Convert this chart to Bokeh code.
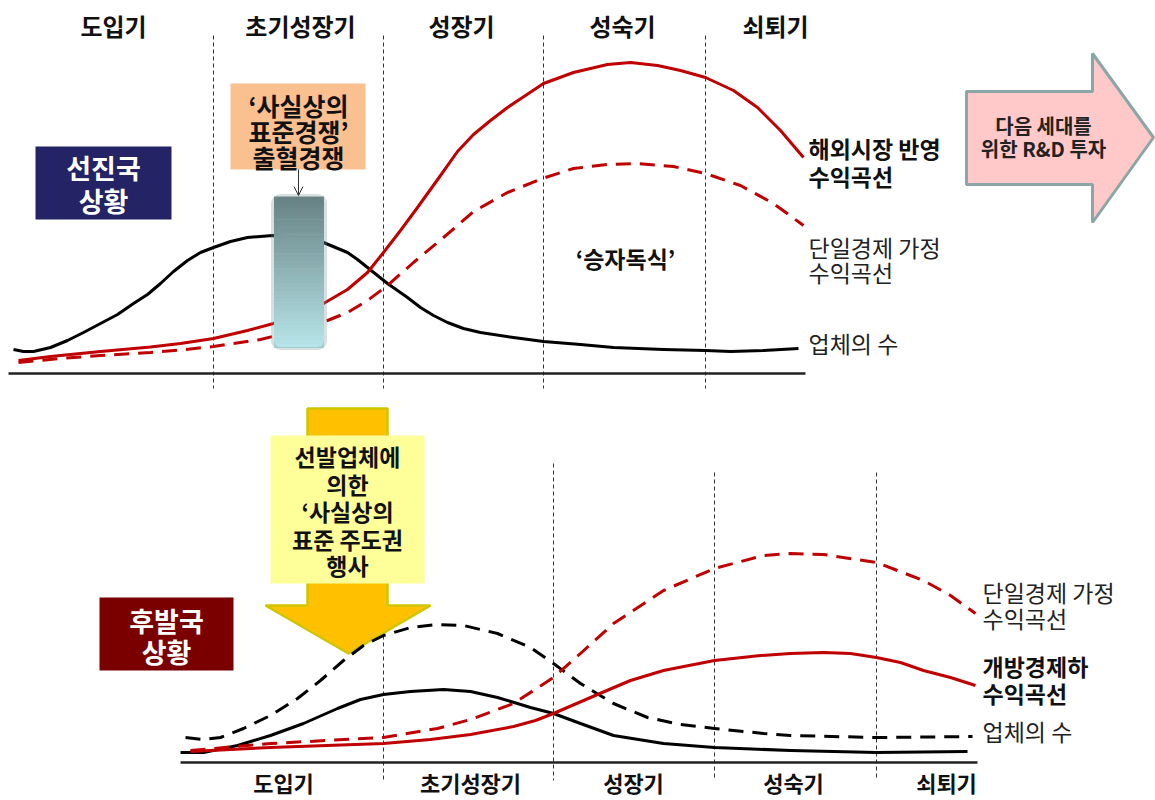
from bokeh.plotting import figure
from bokeh.models import Range1d, Arrow, OpenHead, BoxAnnotation
from bokeh.core.properties import value
from bokeh.embed import file_html
from bokeh.resources import INLINE

# ---------------- data ----------------
stages = ["도입기", "초기성장기", "성장기", "성숙기", "쇠퇴기"]
top_stage_x = [113, 300, 461, 622, 775]
top_bounds = [213, 383, 543, 705]
bot_stage_x = [283, 470, 633, 793, 946]
bot_bounds = [383, 553, 714, 876]
bot_bound_tops = [635, 463, 472, 472]

# advanced-country panel (선진국)
top_firms_x = [13, 23, 33, 50, 67, 83, 100, 117, 133, 147, 160, 173, 187, 200, 213, 230, 247, 260, 272, 290, 310, 323, 335, 347, 357, 367, 377, 387, 397, 407, 420, 433, 447, 463, 480, 513, 543, 580, 613, 663, 705, 730, 763, 798]
top_firms_y = [349, 351, 351, 347, 340, 332, 323, 314, 303, 294, 283, 271, 260, 252, 247, 241, 237, 236, 235, 236, 238, 242, 247, 252, 259, 267, 275, 283, 290, 297, 307, 315, 322, 328, 332, 337, 341, 344, 347, 349, 350, 351, 350, 348]

top_open_x = [18, 50, 100, 150, 180, 213, 247, 273, 297, 323, 347, 367, 383, 400, 417, 440, 457, 473, 490, 507, 525, 543, 573, 607, 630, 657, 680, 705, 733, 757, 780, 803]
top_open_y = [360, 356, 351, 346.5, 343, 338, 330, 323, 315, 303, 289, 272, 252, 230, 207, 175, 151, 134, 120, 107, 95, 83, 72, 64, 62, 65, 70, 77, 90, 107, 130, 157]

top_single_x = [18, 60, 100, 150, 180, 213, 260, 300, 327, 347, 367, 387, 413, 443, 473, 507, 542, 573, 607, 637, 673, 705, 740, 773, 803]
top_single_y = [362, 358, 355, 352, 349.5, 346, 339, 329, 320, 312, 300, 285, 262, 237, 211, 192, 178, 168, 164, 163, 166, 173, 185, 203, 225]

# late-comer panel (후발국)
bot_single_firms_x = [185, 203, 220, 243, 270, 297, 320, 343, 363, 383, 410, 437, 463, 497, 530, 553, 580, 613, 647, 680, 714, 763, 790, 876, 972]
bot_single_firms_y = [737, 739, 737, 728, 715, 698, 680, 660, 645, 635, 627, 624, 625, 633, 647, 663, 683, 703, 717, 724, 728, 733, 735, 737, 736]

bot_open_firms_x = [180, 203, 237, 270, 303, 337, 360, 383, 410, 443, 470, 497, 530, 553, 580, 613, 663, 714, 790, 876, 967]
bot_open_firms_y = [752, 752, 745, 735, 723, 708, 699, 694, 691, 689, 691, 697, 707, 713, 723, 735, 743, 747, 750, 752, 751]

bot_open_x = [190, 270, 383, 430, 470, 513, 535, 553, 597, 630, 663, 714, 760, 790, 823, 850, 876, 900, 923, 950, 975]
bot_open_y = [751, 747, 743, 739, 734, 726, 720, 713, 694, 680, 670, 660, 655, 653, 652, 653, 657, 662, 670, 677, 685]

bot_single_x = [190, 270, 383, 437, 470, 513, 553, 580, 613, 663, 714, 763, 790, 823, 876, 923, 950, 975]
bot_single_y = [750, 743, 737, 728, 719, 703, 677, 653, 623, 590, 568, 555, 553, 554, 562, 580, 595, 613]

top_right_bold = ["해외시장 반영", "수익곡선"]
top_right_reg1 = ["단일경제 가정", "수익곡선"]
firms_label = "업체의 수"
bot_right_bold = ["개방경제하", "수익곡선"]
orange_lines = ["‘사실상의", "표준경쟁’", "출혈경쟁"]
yellow_lines = ["선발업체에", "의한", "‘사실상의", "표준 주도권", "행사"]
pink_lines = ["다음 세대를", "위한 R&D 투자"]
adv_lines = ["선진국", "상황"]
late_lines = ["후발국", "상황"]
winner_text = "‘승자독식’"

# ---------------- figure ----------------
FONT = value("Noto Sans CJK KR")
RED = "#c00000"

p = figure(width=1155, height=800, x_range=Range1d(0, 1155), y_range=Range1d(800, 0),
           output_backend="svg", toolbar_location=None,
           x_axis_location=None, y_axis_location=None,
           min_border=0, min_border_left=0, min_border_right=0,
           min_border_top=0, min_border_bottom=0)
p.grid.visible = False
p.outline_line_color = None
p.background_fill_color = "white"
p.border_fill_color = "white"


def txt(xs, ys, texts, size, bold=True, color="#111111", align="center"):
    p.text(x=xs, y=ys, text=texts, text_font=FONT, text_font_size=value(size),
           text_font_style="bold" if bold else "normal", text_color=color,
           text_align=align, text_baseline="middle")


# stage divider lines
p.segment(x0=top_bounds, x1=top_bounds, y0=[35] * 4, y1=[388] * 4,
          line_color="#333333", line_width=1, line_dash="4 3")
p.segment(x0=bot_bounds, x1=bot_bounds, y0=bot_bound_tops, y1=[780] * 4,
          line_color="#333333", line_width=1, line_dash="4 3")

# baselines
p.line(x=[8, 805], y=[373, 373], line_color="#222222", line_width=2.5)
p.line(x=[180, 977], y=[762, 762], line_color="#222222", line_width=2.5)

# yellow down arrow (under curves)
p.patch(x=[307, 387, 387, 430, 348, 265, 307], y=[408, 408, 605, 605, 653, 605, 605],
        fill_color="#ffc000", line_color="#cfc500", line_width=2.5)
p.quad(left=[270], right=[424], top=[435], bottom=[583], fill_color="#ffff99", line_color=None)

# pink right arrow
p.patch(x=[966, 1092, 1092, 1153, 1092, 1092, 966], y=[91, 91, 53, 137, 222, 184, 184],
        fill_color="#ffc9c9", line_color="#8aa6a6", line_width=3)

# curves top
p.line(top_firms_x, top_firms_y, line_color="black", line_width=3, line_join="round")
p.line(top_single_x, top_single_y, line_color=RED, line_width=3, line_dash="15 9", line_join="round")
p.line(top_open_x, top_open_y, line_color=RED, line_width=3, line_join="round")

# curves bottom
p.line(bot_single_firms_x, bot_single_firms_y, line_color="black", line_width=3, line_dash="15 9", line_join="round")
p.line(bot_open_firms_x, bot_open_firms_y, line_color="black", line_width=3, line_join="round")
p.line(bot_single_x, bot_single_y, line_color=RED, line_width=3, line_dash="15 9", line_join="round")
p.line(bot_open_x, bot_open_y, line_color=RED, line_width=3, line_join="round")

# gradient bar (competition zone)
nb = 40
y0, y1 = 196.0, 347.0
c0, c1 = (104, 130, 132), (182, 228, 232)
bl, br, bt, bb, bc = [], [], [], [], []
for i in range(nb):
    t = i / (nb - 1)
    bt.append(y0 + (y1 - y0) * i / nb)
    bb.append(y0 + (y1 - y0) * (i + 1) / nb + 0.6)
    bl.append(273.5)
    br.append(323.5)
    r, g, b = (int(round(c0[k] + (c1[k] - c0[k]) * t)) for k in range(3))
    bc.append("#%02x%02x%02x" % (r, g, b))
p.quad(left=bl, right=br, top=bt, bottom=bb, fill_color=bc, line_color=None)
p.add_layout(BoxAnnotation(left=272, right=325, top=195, bottom=348, fill_color=None,
                           line_color="#7a9799", line_width=3, border_radius=8))

# orange note box + arrow
p.quad(left=[230], right=[365], top=[83], bottom=[169], fill_color="#fac090", line_color=None)
p.add_layout(Arrow(end=OpenHead(size=9, line_width=1, line_color="#333333"),
                   x_start=298, y_start=169, x_end=298, y_end=195,
                   line_color="#333333", line_width=1))

# situation boxes
p.quad(left=[35], right=[171], top=[146], bottom=[219], fill_color="#232366", line_color=None)
p.quad(left=[99], right=[233], top=[597], bottom=[670], fill_color="#7a0000", line_color=None)

# ---------------- texts ----------------
txt(top_stage_x, [25] * 5, stages, "24px")
txt(bot_stage_x, [781] * 5, stages, "22px")

txt([103, 103], [167, 200], adv_lines, "27px", color="white")
txt([166, 166], [620, 651], late_lines, "27px", color="white")

txt([298, 298, 298], [104, 130, 156], orange_lines, "25px")
txt([347] * 5, [455, 483, 510, 538, 564], yellow_lines, "23px")
txt([1043, 1043], [125, 148], pink_lines, "20px", color="#222222")
txt([625], [257], [winner_text], "23px")

txt([808, 808], [147, 175], top_right_bold, "23px", align="left")
txt([808, 808], [246, 271], top_right_reg1, "23px", bold=False, color="#222222", align="left")
txt([808], [342], [firms_label], "23px", bold=False, color="#222222", align="left")

txt([982, 982], [591, 617], top_right_reg1, "23px", bold=False, color="#222222", align="left")
txt([982, 982], [665, 692], bot_right_bold, "23px", align="left")
txt([982], [730], [firms_label], "23px", bold=False, color="#222222", align="left")

open("out.html", "w").write(file_html(p, INLINE))
